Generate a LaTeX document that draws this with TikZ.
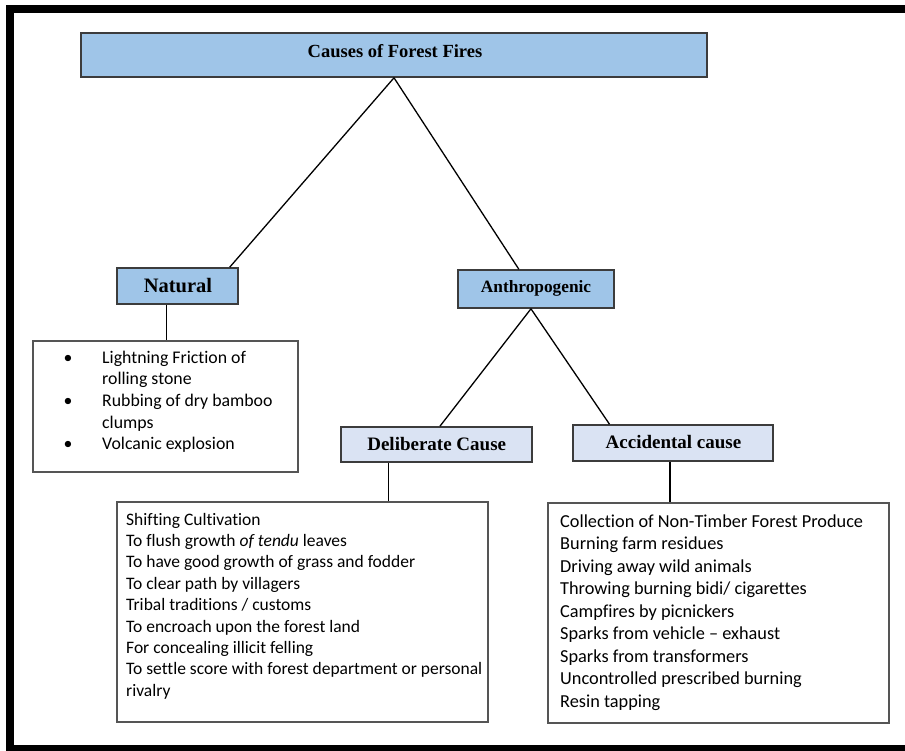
\documentclass[tikz,border=0pt]{standalone}
\usepackage{fontspec}
\setmainfont{Liberation Serif}
\newfontfamily\calfont[Ligatures={NoCommon}]{Carlito}
\usetikzlibrary{calc}
\definecolor{boxblue}{HTML}{9FC5E8}
\definecolor{boxpale}{HTML}{DAE3F3}
\definecolor{edgegray}{HTML}{3C3C3C}
\definecolor{listgray}{HTML}{555555}
\tikzset{
  headbox/.style={draw=edgegray, line width=1.6pt, fill=boxblue, inner sep=0pt},
  subbox/.style={draw=edgegray, line width=1.6pt, fill=boxpale, inner sep=0pt},
  listbox/.style={draw=listgray, line width=1.3pt, fill=white, inner sep=0pt},
  listtext/.style={anchor=north west, inner sep=0pt, align=left},
  conn/.style={draw=black, line width=1.3pt},
  headtext/.style={anchor=base, inner sep=0pt, font=\bfseries}
}
\begin{document}
\begin{tikzpicture}[x=1pt, y=-1pt]
\fill[white] (0,0) rectangle (905,751);
\useasboundingbox (0,0) rectangle (905,751);
% frame
\fill[black] (6,5) rectangle (905,13);
\fill[black] (6,5) rectangle (14,751);
\fill[black] (6,745) rectangle (905,751);

% boxes
\node[headbox, minimum width=626pt, minimum height=44pt] (top) at (394,55) {};
\node[headbox, minimum width=121pt, minimum height=36pt] (nat) at (177.5,286) {};
\node[headbox, minimum width=156pt, minimum height=38pt] (anth) at (536,289) {};
\node[subbox, minimum width=191pt, minimum height=35pt] (delib) at (436.5,444.5) {};
\node[subbox, minimum width=200pt, minimum height=36pt] (accid) at (673,443) {};
\node[listbox, minimum width=265pt, minimum height=131pt] (natlist) at (165.5,406.5) {};
\node[listbox, minimum width=371pt, minimum height=220pt] (dellist) at (302.5,612) {};
\node[listbox, minimum width=341pt, minimum height=220pt] (acclist) at (718.5,613) {};

% titles
\node[headtext, font=\fontsize{18.5}{22}\selectfont\bfseries] (toptext) at (395,58) {Causes of Forest Fires};
\node[headtext, font=\fontsize{20.5}{24}\selectfont\bfseries] (nattext) at (178,293) {Natural};
\node[headtext, font=\fontsize{17.3}{21}\selectfont\bfseries] (anthtext) at (536,292.3) {Anthropogenic};
\node[headtext, font=\fontsize{19}{23}\selectfont\bfseries] (delibtext) at (436.7,450) {Deliberate Cause};
\node[headtext, font=\fontsize{19}{23}\selectfont\bfseries] (accidtext) at (673.5,448.3) {Accidental cause};

% natural list
\node[anchor=base, inner sep=0pt, font=\calfont\fontsize{17.8}{21.7}\selectfont] (b1) at (68,363) {•};
\node[anchor=base, inner sep=0pt, font=\calfont\fontsize{17.8}{21.7}\selectfont] (b2) at (68,406.4) {•};
\node[anchor=base, inner sep=0pt, font=\calfont\fontsize{17.8}{21.7}\selectfont] (b3) at (68,449.8) {•};
\node[listtext, font=\calfont\fontsize{17.8}{21.7}\selectfont] (nattxt) at (102,347.8)
 {\strut Lightning Friction of\\ rolling stone\\ Rubbing of dry bamboo\\ clumps\\ Volcanic explosion};

% deliberate list
\node[listtext, font=\calfont\fontsize{17.5}{21.4}\selectfont] (deltxt) at (126,510)
 {\strut Shifting Cultivation\\
  To flush growth \textit{of tendu} leaves\\
  To have good growth of grass and fodder\\
  To clear path by villagers\\
  Tribal traditions / customs\\
  To encroach upon the forest land\\
  For concealing illicit felling\\
  To settle score with forest department or personal\\
  rivalry};

% accidental list
\node[listtext, font=\calfont\fontsize{18.3}{22.5}\selectfont] (acctxt) at (560,511.25)
 {\strut Collection of Non-Timber Forest Produce\\
  Burning farm residues\\
  Driving away wild animals\\
  Throwing burning bidi/ cigarettes\\
  Campfires by picnickers\\
  Sparks from vehicle – exhaust\\
  Sparks from transformers\\
  Uncontrolled prescribed burning\\
  Resin tapping};

% connectors
\coordinate (apexA) at ($(anth.south west)!0.468!(anth.south east)$);
\draw[conn] (top.south) -- ($(nat.north west)!0.926!(nat.north east)$);
\draw[conn] (top.south) -- ($(anth.north west)!0.391!(anth.north east)$);
\draw[conn] (apexA) -- ($(delib.north west)!0.518!(delib.north east)$);
\draw[conn] (apexA) -- ($(accid.north west)!0.185!(accid.north east)$);
\coordinate (natb) at ($(nat.south west)!0.413!(nat.south east)$);
\draw[conn] (natb) -- (natb |- natlist.north);
\coordinate (delb) at ($(delib.south west)!0.251!(delib.south east)$);
\draw[conn] (delb) -- (delb |- dellist.north);
\coordinate (accb) at ($(accid.south west)!0.485!(accid.south east)$);
\draw[conn] (accb) -- (accb |- acclist.north);
\end{tikzpicture}
\end{document}
